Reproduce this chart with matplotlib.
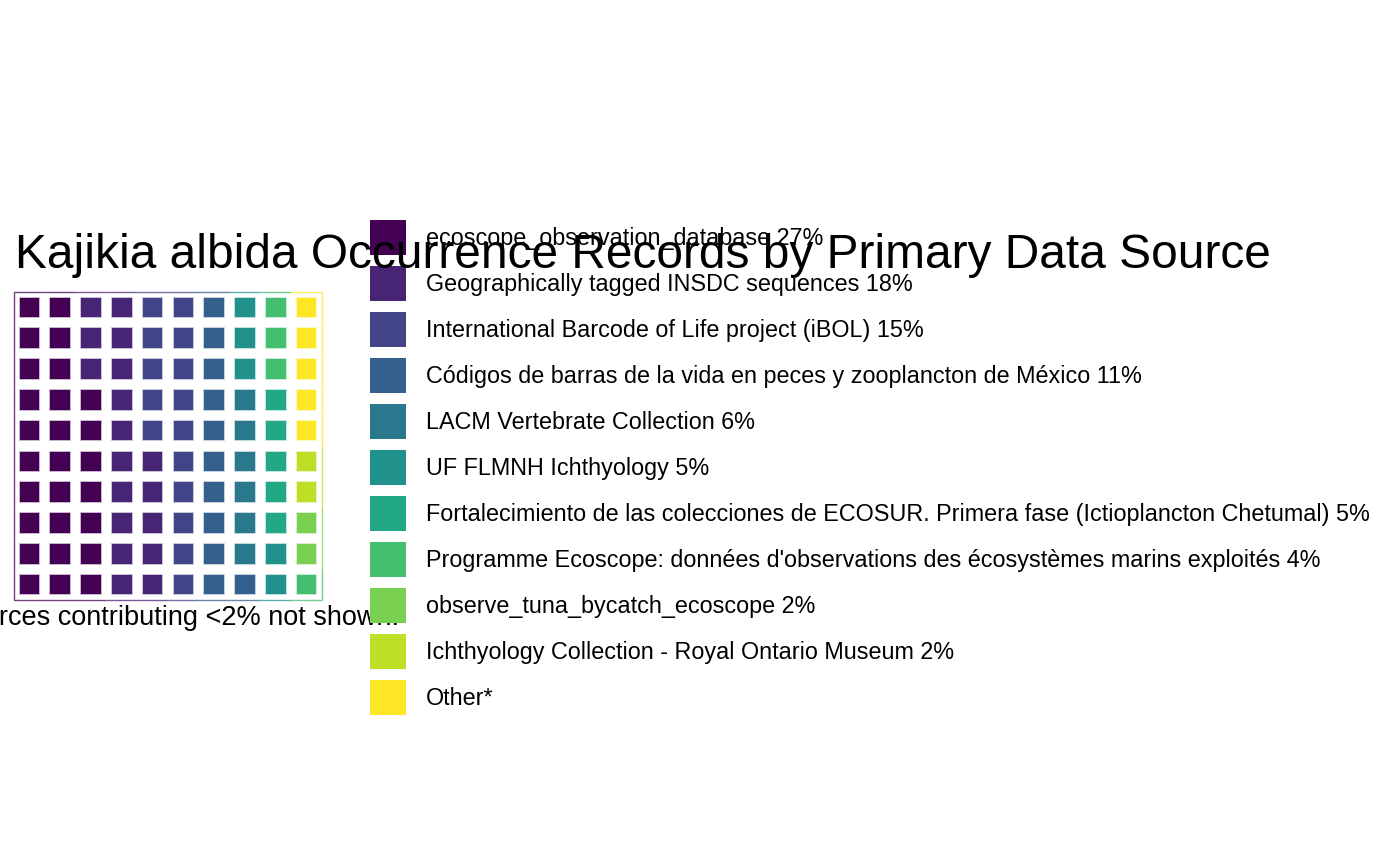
import matplotlib.pyplot as plt
import numpy as np
from matplotlib.patches import Rectangle

plt.rcParams['font.family'] = ['Liberation Sans', 'DejaVu Sans']

TITLE = "Kajikia albida Occurrence Records by Primary Data Source"
CAPTION = "*Sources contributing <2% not shown."

sources = [
    "ecoscope_observation_database",
    "Geographically tagged INSDC sequences",
    "International Barcode of Life project (iBOL)",
    "Códigos de barras de la vida en peces y zooplancton de México",
    "LACM Vertebrate Collection",
    "UF FLMNH Ichthyology",
    "Fortalecimiento de las colecciones de ECOSUR. Primera fase (Ictioplancton Chetumal)",
    "Programme Ecoscope: données d'observations des écosystèmes marins exploités",
    "observe_tuna_bycatch_ecoscope",
    "Ichthyology Collection - Royal Ontario Museum",
    "Other*",
]
percents = [27, 18, 15, 11, 6, 5, 5, 4, 2, 2, 5]
show_pct = [True] * 10 + [False]

N_ROWS = 10
N_COLS = 10

colors = plt.cm.viridis(np.linspace(0, 1, len(sources)))


def waffle_cells(values):
    # fill column by column, bottom to top
    cells = []
    for k, v in enumerate(values):
        cells += [k] * v
    out = []
    for i, k in enumerate(cells):
        col = i // N_ROWS
        row = i % N_ROWS
        out.append((col, row, k))
    return out


def main():
    W, H = 1400, 865
    fig = plt.figure(figsize=(W / 100, H / 100), dpi=100)

    # waffle grid
    gx0, gy0, gsz = 14, 292, 308
    ax = fig.add_axes([gx0 / W, (H - gy0 - gsz) / H, gsz / W, gsz / H])
    ax.set_xlim(0, N_COLS)
    ax.set_ylim(0, N_ROWS)
    ax.axis('off')

    tile = 0.63
    pad = (1 - tile) / 2
    for col, row, k in waffle_cells(percents):
        c = colors[k]
        ax.add_patch(Rectangle((col + pad, row + pad), tile, tile,
                               facecolor=c, edgecolor=(*c[:3], 0.35), linewidth=1.2))
        # outer frame pieces take the colour of the cell they belong to
        fr = dict(color=c, alpha=0.75, linewidth=1.0, solid_capstyle='butt', clip_on=False)
        if col == 0:
            ax.plot([0, 0], [row, row + 1], **fr)
        if col == N_COLS - 1:
            ax.plot([N_COLS, N_COLS], [row, row + 1], **fr)
        if row == 0:
            ax.plot([col, col + 1], [0, 0], **fr)
        if row == N_ROWS - 1:
            ax.plot([col, col + 1], [N_ROWS, N_ROWS], **fr)

    # overlay in pixel coordinates for legend, title and caption
    lay = fig.add_axes([0, 0, 1, 1])
    lay.set_xlim(0, W)
    lay.set_ylim(H, 0)
    lay.axis('off')

    # caption centred under the waffle, partly off the left edge as in the source
    lay.text(gx0 + gsz / 2 + 2, 618, CAPTION, fontsize=19.5, va='center', ha='center', zorder=1)

    key_x, key_w, key_h = 370, 36, 35
    key_top, step = 220, 46
    for i, (name, p) in enumerate(zip(sources, percents)):
        y = key_top + i * step
        lay.add_patch(Rectangle((key_x, y), key_w, key_h, facecolor=colors[i],
                                edgecolor='none', zorder=4))
        label = f"{name} {p}%" if show_pct[i] else name
        lay.text(426, y + key_h / 2 + 1, label, fontsize=16.8, va='center', ha='left', zorder=4)

    lay.text(15, 268, TITLE, fontsize=34.5, va='baseline', ha='left', zorder=5)

    fig.savefig('out.png', dpi=100)


if __name__ == '__main__':
    main()
